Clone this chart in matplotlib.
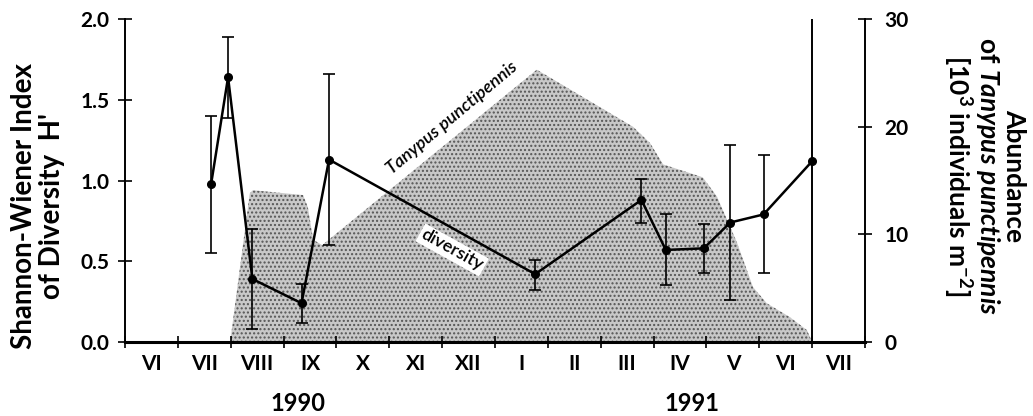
import matplotlib
matplotlib.use('Agg')
import matplotlib.pyplot as plt
from matplotlib import transforms

plt.rcParams['font.family'] = ['Lato', 'DejaVu Sans']
plt.rcParams['font.weight'] = 'bold'
plt.rcParams['mathtext.fontset'] = 'custom'
plt.rcParams['mathtext.rm'] = 'Lato:bold'
plt.rcParams['mathtext.it'] = 'Lato:italic:bold'
plt.rcParams['hatch.linewidth'] = 1.0

# Month axis: 0 = start of June 1990, one unit per month
month_names = ['VI', 'VII', 'VIII', 'IX', 'X', 'XI', 'XII',
               'I', 'II', 'III', 'IV', 'V', 'VI', 'VII']
years = ['1990', '1991']
year_pos = [3.27, 10.73]

# Shannon-Wiener diversity H' with error bars
div_month = [1.63, 1.95, 2.41, 3.34, 3.86, 7.76, 9.77, 10.23, 10.95, 11.45, 12.08, 13.0]
div_value = [0.98, 1.64, 0.39, 0.24, 1.13, 0.42, 0.88, 0.57, 0.58, 0.74, 0.79, 1.12]
div_upper = [1.40, 1.89, 0.70, 0.36, 1.66, 0.51, 1.01, 0.79, 0.73, 1.22, 1.16, 2.00]
div_lower = [0.55, 1.39, 0.08, 0.12, 0.60, 0.32, 0.74, 0.35, 0.43, 0.26, 0.43, 0.00]

# Abundance of Tanypus punctipennis [10^3 ind. m^-2]
ab_month = [1.99, 2.36, 2.42, 3.37, 3.46, 3.56, 3.73, 7.79, 9.61, 9.93,
            10.18, 10.93, 11.2, 11.58, 11.88, 12.14, 12.58, 12.9, 13.0]
ab_value = [0, 13.8, 14.1, 13.65, 12.5, 9.5, 9.0, 25.3, 20.0, 18.5,
            16.5, 15.3, 13.5, 9.2, 5.1, 3.6, 2.3, 1.1, 0]

fig = plt.figure(figsize=(10.33, 4.16), dpi=100)
ax = fig.add_axes([0.121, 0.178, 0.7164, 0.776])
ax2 = ax.twinx()

# diversity axis drawn on top of the shaded abundance
ax.set_zorder(ax2.get_zorder() + 1)
ax.patch.set_visible(False)

# Abundance (stippled area, right axis)
ax2.fill_between(ab_month, ab_value, 0, facecolor='#c8c8c8', edgecolor='#555555',
                 hatch='....', lw=0)
ax2.set_ylim(0, 30)
ax2.set_yticks([0, 10, 20, 30])

# Diversity line with error bars
err_lo = [v - lo for v, lo in zip(div_value, div_lower)]
err_hi = [hi - v for v, hi in zip(div_value, div_upper)]
ax.plot(div_month, div_value, color='black', lw=1.8, marker='o', ms=5.5)
ax.errorbar(div_month[:-1], div_value[:-1], yerr=[err_lo[:-1], err_hi[:-1]],
            fmt='none', ecolor='black', elinewidth=1.2, capsize=4, capthick=1.2)
ax.errorbar(div_month[-1:], div_value[-1:], yerr=[err_lo[-1:], err_hi[-1:]],
            fmt='none', ecolor='black', elinewidth=1.4, capsize=0)

ax.set_xlim(0, 14)
ax.set_ylim(0, 2.0)
ax.set_yticks([0.0, 0.5, 1.0, 1.5, 2.0])
ax.set_yticklabels(['%.1f' % v for v in ax.get_yticks()])

# month boundaries as ticks, month names centred between them
ax.set_xticks(range(len(month_names) + 1))
ax.set_xticklabels([])
ax.set_xticks([i + 0.5 for i in range(len(month_names))], minor=True)
ax.set_xticklabels(month_names, minor=True)
ax.tick_params(axis='x', which='minor', length=0, pad=9, labelsize=15)
ax.tick_params(axis='x', which='major', direction='inout', length=8, width=1.2)
ax.tick_params(axis='y', direction='inout', length=10, width=1.2, labelsize=15, pad=6)
ax2.tick_params(axis='y', direction='inout', length=10, width=1.2, labelsize=15, pad=9)

for name in ['top', 'right']:
    ax.spines[name].set_visible(False)
for name in ['top', 'left', 'bottom']:
    ax2.spines[name].set_visible(False)
ax.spines['left'].set_linewidth(1.4)
ax.spines['bottom'].set_linewidth(2.2)
ax2.spines['right'].set_linewidth(1.4)

# years under the month names
trans = transforms.blended_transform_factory(ax.transData, ax.transAxes)
for yr, pos in zip(years, year_pos):
    ax.text(pos, -0.19, yr, transform=trans, ha='center', va='center', fontsize=17)

# labels on the curves
ax.text(6.19, 1.39, 'Tanypus punctipennis', rotation=40, ha='center', va='center',
        fontsize=13, style='italic', fontweight='semibold')
ax.text(6.19, 0.57, 'diversity', rotation=-29, ha='center', va='center', fontsize=13,
        fontweight='semibold', bbox=dict(facecolor='white', edgecolor='none', pad=1.5))

# axis titles
fig.text(0.037, 0.505, "Shannon-Wiener Index\nof Diversity  H'", rotation=90,
         ha='center', va='center', fontsize=20, multialignment='center',
         linespacing=1.1)
fig.text(0.952, 0.577, 'Abundance\nof $\\it{Tanypus\\ punctipennis}$\n[10$^3$ individuals m$^{-2}$]',
         rotation=270, ha='center', va='center', fontsize=19, multialignment='center',
         linespacing=1.0)

fig.savefig('out.png', dpi=100)
